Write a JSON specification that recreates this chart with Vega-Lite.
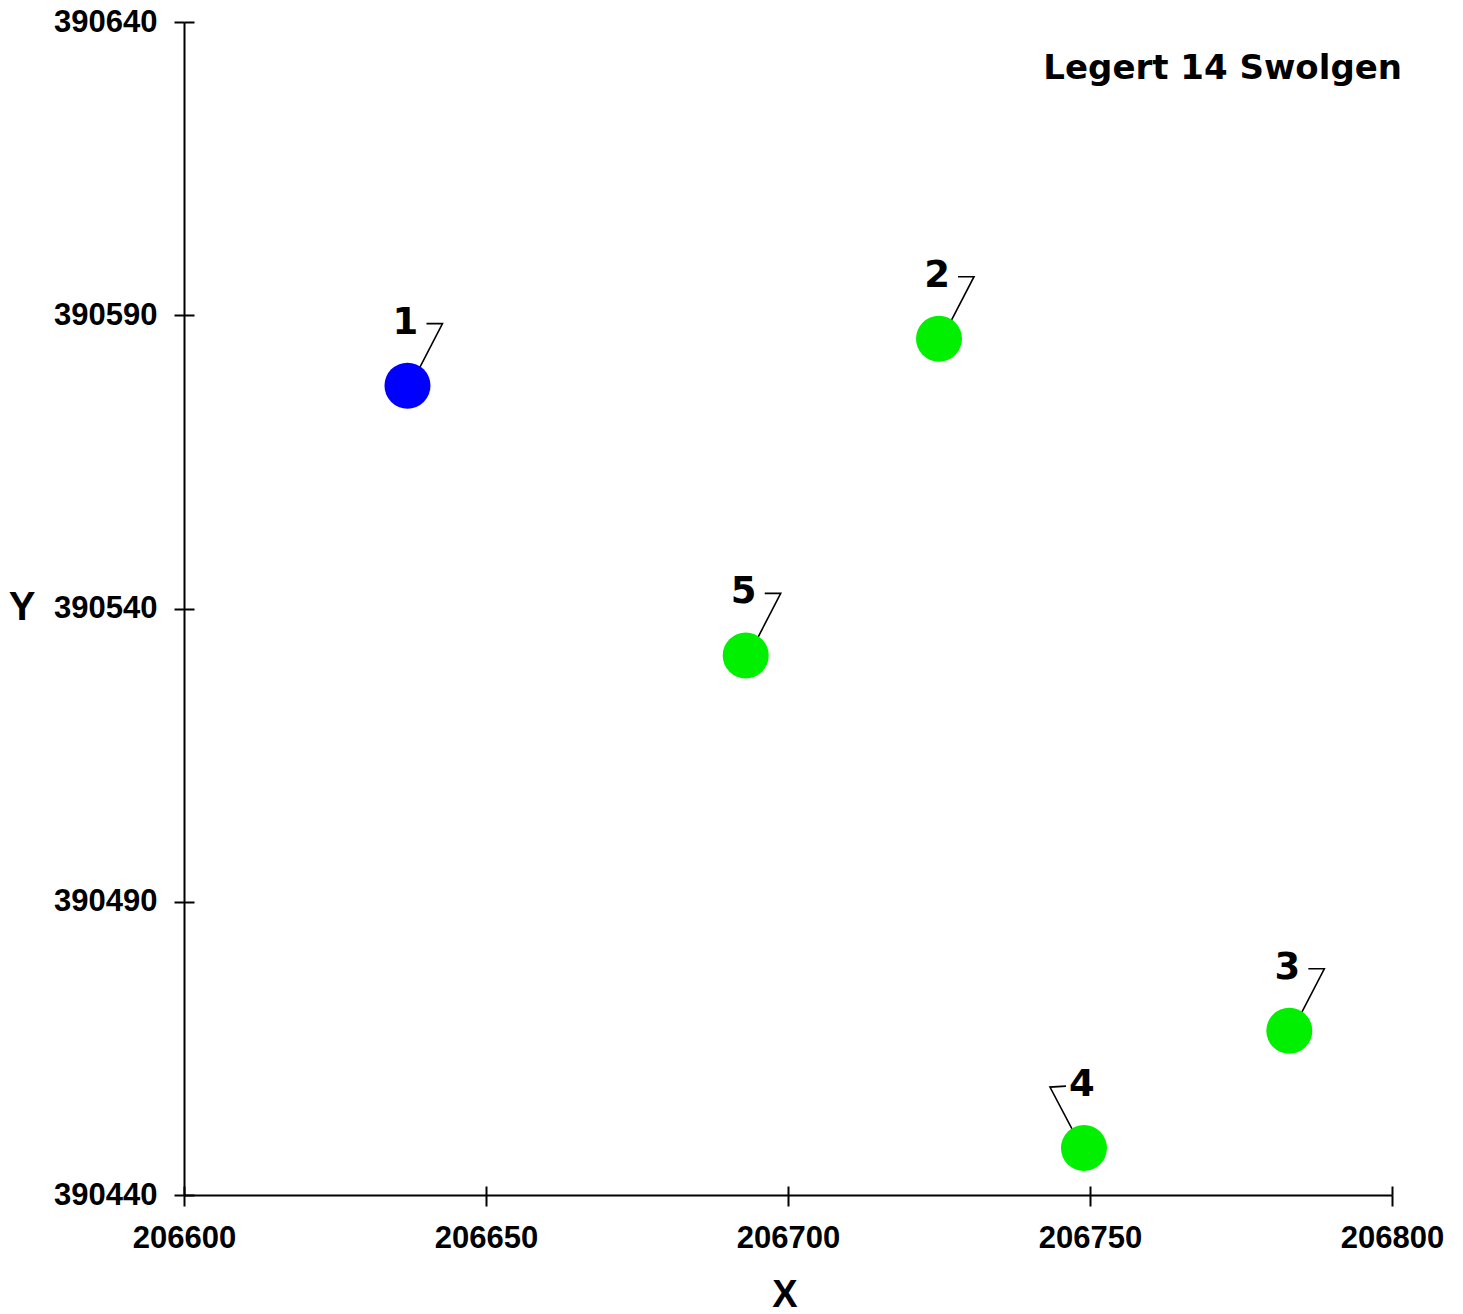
{
  "$schema": "https://vega.github.io/schema/vega-lite/v6.json",
  "width": 1208,
  "height": 1173,
  "autosize": "none",
  "padding": {"left": 184, "top": 22, "right": 71, "bottom": 119},
  "background": "white",
  "config": {"view": {"stroke": null}},
  "title": {
    "text": "Legert 14 Swolgen",
    "orient": "top",
    "anchor": "end",
    "frame": "group",
    "font": "DejaVu Sans",
    "fontWeight": "bold",
    "fontSize": 34,
    "color": "black",
    "baseline": "alphabetic",
    "offset": 0,
    "dx": 10,
    "dy": 107
  },
  "data": {
    "values": [
      {"id": "1", "x": 206637, "y": 390578, "kind": "A", "side": "R"},
      {"id": "2", "x": 206725, "y": 390586, "kind": "B", "side": "R"},
      {"id": "3", "x": 206783, "y": 390468, "kind": "B", "side": "R"},
      {"id": "4", "x": 206749, "y": 390448, "kind": "B", "side": "L"},
      {"id": "5", "x": 206693, "y": 390532, "kind": "B", "side": "R"}
    ]
  },
  "resolve": {"axis": {"x": "independent", "y": "independent"}},
  "layer": [
    {
      "mark": {"type": "point", "filled": false, "stroke": "black", "strokeWidth": 1.6, "size": 400, "opacity": 1},
      "encoding": {
        "x": {"field": "x", "type": "quantitative", "scale": {"domain": [206600, 206800], "nice": false, "zero": false},
          "axis": {"orient": "bottom", "values": [206600, 206650, 206700, 206750, 206800], "tickSize": -9, "tickWidth": 2, "tickColor": "black", "domain": false, "labels": false, "grid": false, "title": null}},
        "y": {"field": "y", "type": "quantitative", "scale": {"domain": [390440, 390640], "nice": false, "zero": false},
          "axis": {"orient": "left", "values": [390440, 390490, 390540, 390590, 390640], "tickSize": -10, "tickWidth": 2, "tickColor": "black", "domain": false, "labels": false, "grid": false, "title": null}},
        "shape": {"field": "side", "type": "nominal", "legend": null,
          "scale": {"domain": ["R", "L"], "range": ["M0.6,-0.6L3.5,-6.2L1.9,-6.2", "M-0.5,-0.6L-3.4,-6.1L-1.8,-6.2"]}}
      }
    },
    {
      "mark": {"type": "point", "filled": true, "shape": "circle", "size": 2116, "opacity": 1, "strokeWidth": 0},
      "encoding": {
        "x": {"field": "x", "type": "quantitative",
          "axis": {"orient": "bottom", "values": [206600, 206650, 206700, 206750, 206800], "format": "d", "tickSize": 11, "tickWidth": 2, "tickColor": "black",
            "domain": true, "domainColor": "black", "domainWidth": 2, "grid": false,
            "labelFont": "Liberation Sans", "labelFontWeight": "bold", "labelFontSize": 31, "labelColor": "black", "labelPadding": 17,
            "labelOverlap": false, "labelFlush": false,
            "title": "X", "titleFont": "Liberation Sans", "titleFontWeight": "bold", "titleFontSize": 38, "titleColor": "black",
            "titleX": 600.5, "titleY": 100, "titleBaseline": "middle", "titleAlign": "center", "titleAnchor": null}},
        "y": {"field": "y", "type": "quantitative",
          "axis": {"orient": "left", "values": [390440, 390490, 390540, 390590, 390640], "format": "d", "tickSize": 10, "tickWidth": 2, "tickColor": "black",
            "domain": true, "domainColor": "black", "domainWidth": 2, "grid": false,
            "labelFont": "Liberation Sans", "labelFontWeight": "bold", "labelFontSize": 31, "labelColor": "black", "labelPadding": 17,
            "labelOverlap": false, "labelFlush": false, "labelBaseline": "middle",
            "title": "Y", "titleFont": "Liberation Sans", "titleFontWeight": "bold", "titleFontSize": 40, "titleColor": "black",
            "titleAngle": 0, "titleX": -162.5, "titleY": 585, "titleBaseline": "middle", "titleAlign": "center", "titleAnchor": null}},
        "color": {"field": "kind", "type": "nominal", "legend": null,
          "scale": {"domain": ["A", "B"], "range": ["#0000ff", "#00f000"]}}
      }
    },
    {
      "mark": {"type": "text", "font": "DejaVu Sans", "fontWeight": "bold", "fontSize": 37, "color": "black", "align": "center", "baseline": "middle", "dx": -2, "dy": -63},
      "encoding": {
        "x": {"field": "x", "type": "quantitative", "axis": null},
        "y": {"field": "y", "type": "quantitative", "axis": null},
        "text": {"field": "id", "type": "nominal"}
      }
    }
  ]
}
